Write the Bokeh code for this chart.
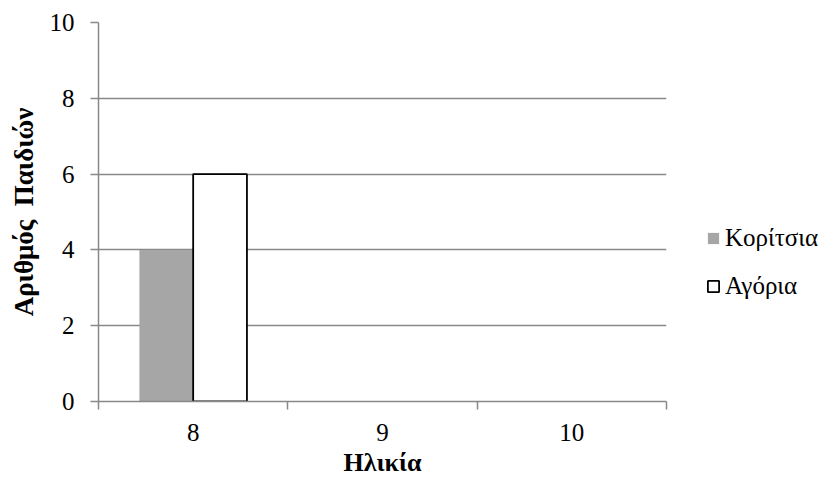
from bokeh.plotting import figure
from bokeh.layouts import row
from bokeh.models import Range1d, FixedTicker, Legend, LegendItem, ColumnDataSource
from bokeh.embed import file_html
from bokeh.resources import INLINE

categories = ["8", "9", "10"]
girls = [4, 0, 0]
boys = [6, 0, 0]
y_ticks = [0, 2, 4, 6, 8, 10]
series_names = ["Κορίτσια", "Αγόρια"]

FONT = "Liberation Serif"
GRID = "#898989"
FS = "25px"
GIRL_FILL = "#a6a6a6"

n = len(categories)
centers = [i + 0.5 for i in range(n)]
bw = 0.284

p = figure(width=680, height=479, output_backend="svg", toolbar_location=None,
           x_range=Range1d(0, n), y_range=Range1d(0, 10),
           min_border_left=98, min_border_right=14, min_border_top=22, min_border_bottom=76)
p.outline_line_color = None

src_g = ColumnDataSource(dict(x=[c - bw / 2 for c in centers], top=girls))
src_b = ColumnDataSource(dict(x=[c + bw / 2 for c in centers], top=boys,
                              la=[1 if v > 0 else 0 for v in boys]))
rg = p.vbar(x="x", top="top", bottom=0, width=bw, source=src_g,
            fill_color=GIRL_FILL, line_color=None)
rb = p.vbar(x="x", top="top", bottom=0, width=bw, source=src_b,
            fill_color="white", line_color="black", line_width=1.8, line_alpha="la")

# x axis: labels at category centres, tick marks at category boundaries
xa = p.xaxis[0]
xa.ticker = FixedTicker(ticks=centers, minor_ticks=list(range(n + 1)))
xa.major_label_overrides = {c: lab for c, lab in zip(centers, categories)}
xa.major_tick_line_color = None
xa.major_tick_out = 8
xa.major_tick_in = 0
xa.minor_tick_line_color = GRID
xa.minor_tick_line_width = 1.5
xa.minor_tick_out = 8
xa.minor_tick_in = 0
xa.axis_line_color = GRID
xa.axis_line_width = 1.5
xa.major_label_text_font = FONT
xa.major_label_text_font_size = FS
xa.major_label_text_color = "black"
xa.major_label_standoff = 14
xa.axis_label = "Ηλικία"
xa.axis_label_text_font = FONT
xa.axis_label_text_font_size = "26px"
xa.axis_label_text_font_style = "bold"
xa.axis_label_text_color = "black"
xa.axis_label_standoff = 4

ya = p.yaxis[0]
ya.ticker = FixedTicker(ticks=y_ticks, minor_ticks=[])
ya.major_tick_line_color = GRID
ya.major_tick_line_width = 1.5
ya.major_tick_out = 8
ya.major_tick_in = 0
ya.minor_tick_line_color = None
ya.axis_line_color = GRID
ya.axis_line_width = 1.5
ya.major_label_text_font = FONT
ya.major_label_text_font_size = FS
ya.major_label_text_color = "black"
ya.major_label_standoff = 16
ya.axis_label = "Αριθμός\u00a0\u00a0Παιδιών"
ya.axis_label_text_font = FONT
ya.axis_label_text_font_size = "27px"
ya.axis_label_text_font_style = "bold"
ya.axis_label_text_color = "black"
ya.axis_label_standoff = 8

p.xgrid.grid_line_color = None
p.ygrid.ticker = FixedTicker(ticks=y_ticks)
p.ygrid.grid_line_color = GRID
p.ygrid.grid_line_width = 1.5

# legend panel: zero-size proxy bars; only their legend swatches show
q = figure(width=140, height=479, output_backend="svg", toolbar_location=None,
           x_axis_location=None, y_axis_location=None,
           x_range=Range1d(0, 1), y_range=Range1d(0, 1), min_border=0)
q.outline_line_color = None
q.grid.grid_line_color = None
proxy_src = ColumnDataSource(dict(x=[0.5], top=[0.5], bottom=[0.5]))
lg = q.vbar(x="x", top="top", bottom="bottom", width=0, source=proxy_src,
            fill_color=GIRL_FILL, line_color=None)
lb = q.vbar(x="x", top="top", bottom="bottom", width=0, source=proxy_src,
            fill_color="white", line_color="black", line_width=1.8)

legend = Legend(items=[LegendItem(label=series_names[0], renderers=[lg]),
                       LegendItem(label=series_names[1], renderers=[lb])],
                location=(26, 101), orientation="vertical")
legend.padding = 0
legend.margin = 0
legend.border_line_color = None
legend.background_fill_alpha = 0
legend.glyph_width = 14
legend.glyph_height = 14
legend.label_height = 26
legend.spacing = 20
legend.label_standoff = 5
legend.label_text_font = FONT
legend.label_text_font_size = "25px"
legend.label_text_color = "black"
legend.label_text_baseline = "middle"
q.add_layout(legend, "center")

layout = row(p, q, spacing=0)
open("out.html", "w").write(file_html(layout, INLINE))
